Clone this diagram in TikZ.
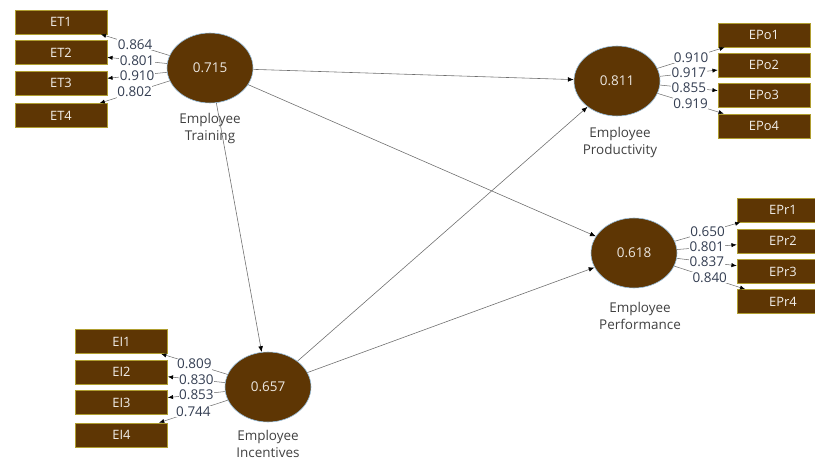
\documentclass[tikz,border=0pt]{standalone}
\usepackage{fontspec}
\setmainfont{Open Sans}
\usetikzlibrary{arrows.meta,shapes.geometric}

\definecolor{lvbrown}{RGB}{94,54,4}
\definecolor{boxedge}{RGB}{176,158,48}
\definecolor{lvedge}{RGB}{150,190,222}
\definecolor{loadtext}{RGB}{52,62,82}
\definecolor{nametext}{RGB}{64,64,64}
\definecolor{linegray}{RGB}{110,110,110}

\begin{document}
\begin{tikzpicture}[x=0.03cm,y=-0.03cm,
    latent/.style={ellipse, fill=lvbrown, draw=lvedge, line width=0.5pt,
        minimum width=2.58cm, minimum height=2.1cm, inner sep=0pt,
        text=white!88!lvbrown, font=\fontsize{11.5}{13}\selectfont},
    indic/.style={rectangle, fill=lvbrown, draw=boxedge, line width=0.5pt,
        minimum width=2.76cm, minimum height=0.72cm, inner sep=0pt,
        text=white!92!lvbrown, font=\fontsize{11}{13}\selectfont},
    lvname/.style={anchor=north, align=center, inner sep=0pt, text=nametext,
        font=\fontsize{11.5}{14.5}\selectfont},
    loading/.style={draw=linegray, line width=0.45pt,
        -{Latex[length=4.5pt,width=3.6pt,color=black]}},
    loadlbl/.style={fill=white, inner sep=0.5pt, text=loadtext,
        font=\fontsize{11.5}{13}\selectfont},
    pathline/.style={draw=linegray, line width=0.5pt,
        -{Latex[length=5pt,width=4pt,color=black]}}]

    % Fix the frame of the picture
    \useasboundingbox (0,0) rectangle (815,461);
    \clip (0,0) rectangle (815,461);

    % Latent variables
    \node[latent] (train) at (210,68) {0.715};
    \node[latent] (prod) at (617,81) {0.811};
    \node[latent] (perf) at (634,253) {0.618};
    \node[latent] (incent) at (268,387) {0.657};

    % Names under the latent variables
    \node[lvname] (trainname) at (210,113) {Employee\\Training};
    \node[lvname] (prodname) at (620,127) {Employee\\Productivity};
    \node[lvname] (perfname) at (640,302) {Employee\\Performance};
    \node[lvname] (incentname) at (268,430.5) {Employee\\Incentives};

    % Indicators of Employee Training
    \node[indic] (et1) at (61,22) {ET1};
    \node[indic] (et2) at (61,52.5) {ET2};
    \node[indic] (et3) at (61,83) {ET3};
    \node[indic] (et4) at (61,115.5) {ET4};

    % Indicators of Employee Productivity
    \node[indic] (epo1) at (764,35) {EPo1};
    \node[indic] (epo2) at (764,65) {EPo2};
    \node[indic] (epo3) at (764,95) {EPo3};
    \node[indic] (epo4) at (764,126) {EPo4};

    % Indicators of Employee Performance
    \node[indic] (epr1) at (783,210) {EPr1};
    \node[indic] (epr2) at (783,241) {EPr2};
    \node[indic] (epr3) at (783,271.5) {EPr3};
    \node[indic] (epr4) at (783,301.5) {EPr4};

    % Indicators of Employee Incentives
    \node[indic] (ei1) at (121.5,341.5) {EI1};
    \node[indic] (ei2) at (121.5,372) {EI2};
    \node[indic] (ei3) at (121.5,402.5) {EI3};
    \node[indic] (ei4) at (121.5,435) {EI4};

    % Structural paths
    \draw[pathline] (train) -- (prod);
    \draw[pathline] (train) -- (perf);
    \draw[pathline] (train) -- (incent);
    \draw[pathline] (incent) -- (prod);
    \draw[pathline] (incent) -- (perf);

    % Outer loadings
    \draw[loading] (train) -- node[loadlbl] {0.864} (et1);
    \draw[loading] (train) -- node[loadlbl] {0.801} (et2);
    \draw[loading] (train) -- node[loadlbl] {0.910} (et3);
    \draw[loading] (train) -- node[loadlbl] {0.802} (et4);

    \draw[loading] (prod) -- node[loadlbl] {0.910} (epo1);
    \draw[loading] (prod) -- node[loadlbl] {0.917} (epo2);
    \draw[loading] (prod) -- node[loadlbl] {0.855} (epo3);
    \draw[loading] (prod) -- node[loadlbl] {0.919} (epo4);

    \draw[loading] (perf) -- node[loadlbl] {0.650} (epr1);
    \draw[loading] (perf) -- node[loadlbl] {0.801} (epr2);
    \draw[loading] (perf) -- node[loadlbl] {0.837} (epr3);
    \draw[loading] (perf) -- node[loadlbl] {0.840} (epr4);

    \draw[loading] (incent) -- node[loadlbl] {0.809} (ei1);
    \draw[loading] (incent) -- node[loadlbl] {0.830} (ei2);
    \draw[loading] (incent) -- node[loadlbl] {0.853} (ei3);
    \draw[loading] (incent) -- node[loadlbl] {0.744} (ei4);
\end{tikzpicture}
\end{document}
